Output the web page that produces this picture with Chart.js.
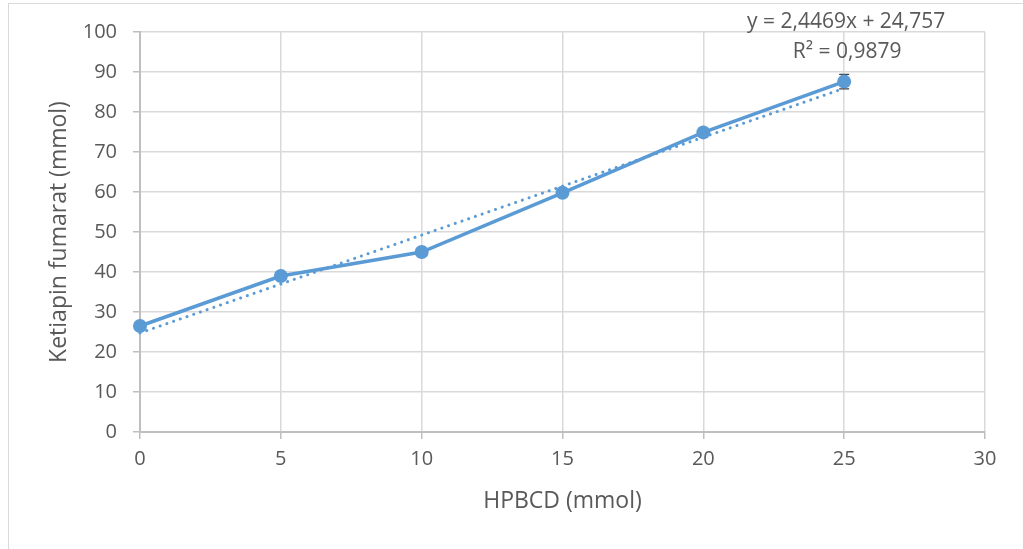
<!DOCTYPE html>
<html>
<head>
<meta charset="utf-8">
<script src="https://cdn.jsdelivr.net/npm/chart.js@4"></script>
<style>
  html, body { margin: 0; padding: 0; background: #ffffff; }
  #frame {
    position: absolute; left: 8px; top: 3px; width: 1030px; height: 560px;
    border: 1px solid #d9d9d9; box-sizing: border-box;
  }
  #wrap { position: absolute; left: 0; top: 0; width: 1023px; height: 549px; }
</style>
</head>
<body>
<div id="frame"></div>
<div id="wrap"><canvas id="c" width="1023" height="549"></canvas></div>
<script>
// Measured solubility: HPBCD amount vs. dissolved ketiapin fumarat
const hpbcd = [0, 5, 10, 15, 20, 25];
const ketiapin = [26.5, 39.0, 45.0, 59.8, 74.9, 87.6];
const ketiapinErr = [0.5, 0.5, 0.5, 0.5, 0.5, 1.8];

// Linear trendline endpoints (y = 2,4469x + 24,757)
const trendX = [0, 25];
const trendY = [24.757, 85.93];
const trendLabels = ['y = 2,4469x + 24,757', 'R\u00B2 = 0,9879'];

const xTicks = [0, 5, 10, 15, 20, 25, 30];
const yTicks = [0, 10, 20, 30, 40, 50, 60, 70, 80, 90, 100];

const FONT = "'Open Sans', 'Liberation Sans', sans-serif";
const TEXT = '#595959';
const GRID = '#d9d9d9';
const BLUE = '#5b9bd5';

// Plot box in canvas pixels
const PAD = { left: 46, right: 38, top: 32, bottom: 34 };
const PLOT_LEFT = 140;
const PLOT_BOTTOM = 432;

const errorBars = {
  id: 'errorBars',
  beforeDatasetsDraw(chart) {
    const { ctx, scales: { x, y } } = chart;
    ctx.save();
    ctx.strokeStyle = '#404040';
    ctx.lineWidth = 1.2;
    hpbcd.forEach((v, i) => {
      const px = x.getPixelForValue(v);
      const top = y.getPixelForValue(ketiapin[i] + ketiapinErr[i]);
      const bot = y.getPixelForValue(ketiapin[i] - ketiapinErr[i]);
      ctx.beginPath();
      ctx.moveTo(px, top); ctx.lineTo(px, bot);
      ctx.moveTo(px - 5, top); ctx.lineTo(px + 5, top);
      ctx.moveTo(px - 5, bot); ctx.lineTo(px + 5, bot);
      ctx.stroke();
    });
    ctx.restore();
  }
};

const trendText = {
  id: 'trendText',
  afterDraw(chart) {
    const { ctx, scales: { x, y } } = chart;
    const cx = x.getPixelForValue(trendX[1]);
    const top = y.getPixelForValue(100);
    ctx.save();
    ctx.font = '21px ' + FONT;
    ctx.fillStyle = TEXT;
    ctx.textAlign = 'center';
    ctx.textBaseline = 'middle';
    ctx.fillText(trendLabels[0], cx + 2, top - 10);
    ctx.fillText(trendLabels[1], cx + 3, top + 20);
    ctx.restore();
  }
};

new Chart(document.getElementById('c'), {
  type: 'scatter',
  data: {
    datasets: [
      {
        label: 'Ketiapin fumarat',
        data: hpbcd.map((v, i) => ({ x: v, y: ketiapin[i] })),
        showLine: true,
        clip: false,
        borderColor: BLUE,
        backgroundColor: BLUE,
        borderWidth: 3.5,
        pointRadius: 7,
        pointHoverRadius: 7,
        pointBorderWidth: 0,
        order: 1
      },
      {
        label: 'Linear',
        data: trendX.map((v, i) => ({ x: v, y: trendY[i] })),
        showLine: true,
        clip: false,
        borderColor: BLUE,
        borderWidth: 3,
        borderDash: [0.1, 7],
        borderCapStyle: 'round',
        pointRadius: 0,
        order: 2
      }
    ]
  },
  plugins: [errorBars, trendText],
  options: {
    responsive: false,
    animation: false,
    layout: { padding: PAD },
    plugins: { legend: { display: false }, tooltip: { enabled: false } },
    scales: {
      x: {
        type: 'linear', min: 0, max: 30,
        afterBuildTicks: s => { s.ticks = xTicks.map(v => ({ value: v })); },
        afterFit: s => { s.height = 549 - PLOT_BOTTOM - PAD.bottom; },
        grid: { color: GRID, lineWidth: 1.5, tickLength: 7, tickColor: '#bfbfbf' },
        border: { color: '#bfbfbf', width: 2 },
        ticks: { color: TEXT, font: { family: FONT, size: 20 }, padding: 8, maxRotation: 0 },
        title: { display: true, text: 'HPBCD (mmol)', color: TEXT, font: { family: FONT, size: 23 }, padding: 0 }
      },
      y: {
        type: 'linear', min: 0, max: 100,
        afterBuildTicks: s => { s.ticks = yTicks.map(v => ({ value: v })); },
        afterFit: s => { s.width = PLOT_LEFT - PAD.left; },
        grid: { color: GRID, lineWidth: 1.5, tickLength: 7, tickColor: '#bfbfbf' },
        border: { color: '#bfbfbf', width: 2 },
        ticks: { color: TEXT, font: { family: FONT, size: 20 }, padding: 16 },
        title: { display: true, text: 'Ketiapin fumarat (mmol)', color: TEXT, font: { family: FONT, size: 23 }, padding: 0 }
      }
    }
  }
});
</script>
</body>
</html>
